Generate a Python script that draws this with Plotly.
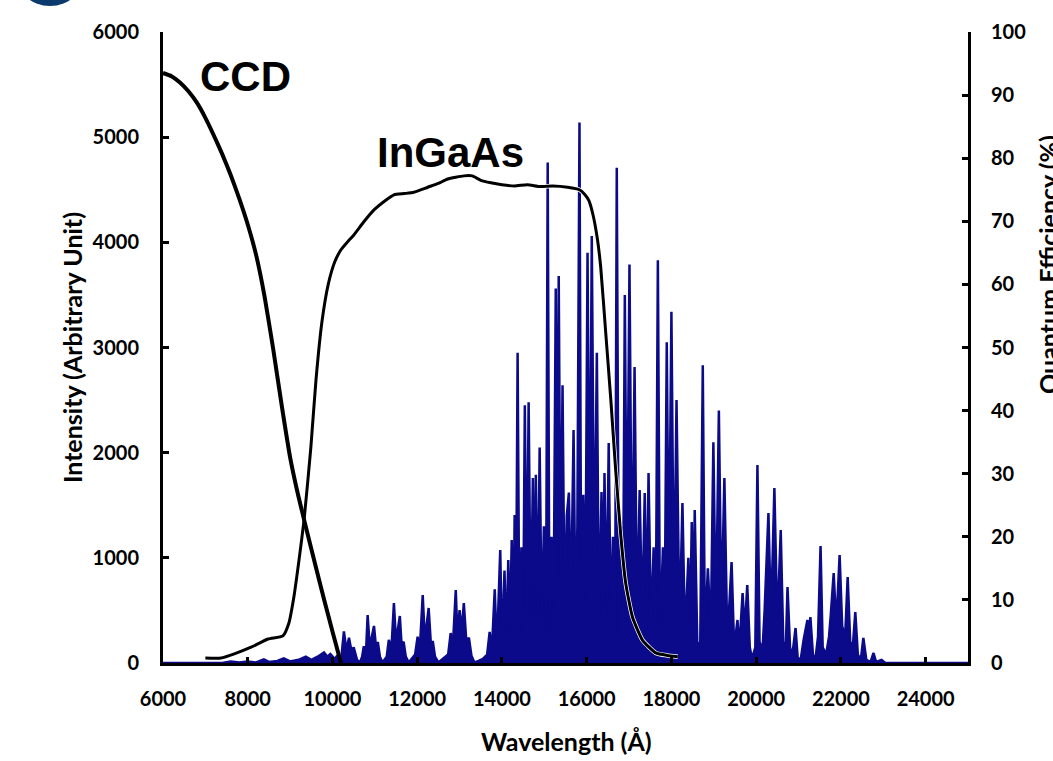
import plotly.graph_objects as go

# ---------------- data ----------------
# Emission spectrum (left axis): wavelength (Å) and intensity (arb. unit), peaks and valleys in order
spec_wavelength = [
    6000, 7400, 7600, 7800, 8000, 8200, 8380, 8500, 8700, 8850, 9000, 9200, 9370, 9500, 9650, 9800, 9880, 9950, 10050, 10130, 10200,
    10270, 10330, 10390, 10450, 10500, 10580, 10650,
    10700, 10740, 10790, 10830, 10880, 10930, 10980, 11030, 11070, 11120, 11180,
    11280, 11330, 11390, 11450, 11500, 11540, 11590, 11630, 11680, 11730, 11800,
    11950, 12010, 12060, 12130, 12180, 12220, 12270, 12320, 12370, 12420, 12500,
    12730, 12790, 12840, 12910, 12950, 13000, 13050, 13100, 13160, 13220, 13280, 13350,
    13450, 13550, 13650, 13710, 13760, 13830, 13880, 13960, 14000, 14060, 14100, 14150, 14190, 14230, 14270, 14300, 14330,
    14370, 14410, 14460, 14500, 14540, 14585, 14630, 14680, 14730, 14765, 14800, 14845, 14890, 14940, 14990, 15040,
    15080, 15120, 15170, 15220, 15270, 15300, 15340, 15385, 15430, 15480, 15530, 15580, 15630, 15690, 15740, 15780,
    15830, 15870, 15920, 15970, 16020, 16070, 16120, 16180, 16240, 16290, 16350, 16390, 16420, 16470, 16520, 16570,
    16620, 16670, 16710, 16760, 16810, 16860, 16900, 16950, 17010, 17070, 17130, 17190, 17250, 17310, 17370, 17420,
    17460, 17520, 17580, 17630, 17680, 17730, 17800, 17840, 17890, 17940, 18000, 18060, 18120, 18190, 18260, 18320,
    18400, 18440, 18480, 18520, 18550, 18610, 18680, 18740, 18790, 18860, 18930, 18990, 19050, 19120, 19180, 19250,
    19320, 19420, 19480, 19560, 19600, 19680, 19730, 19790, 19850, 19900, 19980, 20030, 20080, 20150, 20200, 20290,
    20350, 20430, 20500, 20580, 20640, 20700, 20740, 20800, 20850, 20930, 20980, 21050, 21120, 21210, 21250, 21280,
    21340, 21400, 21460, 21520, 21570, 21650, 21720, 21760, 21830, 21890, 21970, 22030, 22100, 22160, 22220, 22280,
    22340, 22400, 22470, 22530, 22600, 22700, 22770, 22830, 22960, 23050, 25000,
]
spec_intensity = [
    0, 0, 15, 5, 15, 5, 35, 10, 20, 45, 15, 30, 60, 30, 60, 100, 60, 85, 40, 75, 10,
    300, 120, 240, 110, 150, 30, 5,
    60, 160, 90, 456, 150, 260, 352, 140, 200, 60, 5,
    60, 220, 120, 570, 200, 300, 447, 180, 200, 60, 5,
    80, 250, 120, 647, 220, 350, 523, 200, 200, 60, 5,
    80, 285, 150, 694, 250, 504, 300, 570, 200, 240, 70, 5,
    20, 40, 80, 295, 100, 700, 120, 1075, 150, 880, 200, 980, 250, 1170, 250, 1407, 200,
    2950, 250, 1100, 250, 2450, 450, 2480, 300, 1760, 450, 1790, 400, 2050, 300, 1300, 250,
    4760, 300, 1200, 500, 3560, 800, 3680, 600, 2640, 400, 1400, 1620, 500, 2215, 300, 1300,
    5140, 400, 1600, 600, 3900, 800, 4060, 700, 2950, 300, 1626, 550, 1807, 450, 2092, 300,
    1200, 250, 4710, 300, 1300, 550, 3500, 700, 3790, 550, 2815, 350, 1645, 400, 1617, 450,
    1807, 300, 1100, 200, 3830, 250, 1100, 350, 3050, 650, 3340, 450, 2500, 300, 1521, 250,
    1000, 300, 1341, 400, 1455, 200, 150, 2830, 250, 900, 300, 2100, 350, 2400, 450, 1760,
    200, 960, 150, 409, 120, 666, 300, 742, 150, 40, 150, 1883, 200, 120, 500, 1426,
    400, 1664, 350, 1265, 200, 150, 723, 150, 60, 333, 50, 30, 220, 409, 280, 437,
    80, 40, 250, 1113, 150, 80, 250, 450, 856, 350, 1027, 350, 250, 818, 200, 150,
    485, 80, 30, 238, 30, 10, 95, 10, 30, 0, 0,
]

# Quantum efficiency curves (right axis, %)
ccd_wavelength = [6000, 6200, 6400, 6600, 6800, 7000, 7200, 7400, 7600, 7800, 8000,
                  8200, 8400, 8600, 8800, 9000, 9200, 9400, 9600, 9800, 10000, 10200]
ccd_qe = [93.5, 93.0, 92.0, 90.6, 88.8, 86.4, 83.6, 80.6, 77.3, 73.6, 69.5,
          64.6, 58.0, 49.8, 40.9, 32.6, 26.3, 20.8, 15.4, 10.1, 5.0, 0]

ingaas_wavelength = [7000, 7370, 7700, 8080, 8480, 8830, 8970, 9090, 9210, 9330, 9490, 9610,
                     9750, 9900, 10050, 10200, 10350, 10500, 10750, 10980, 11250, 11450, 11700,
                     11920, 12250, 12500, 12720, 13100, 13300, 13500, 13740, 14000, 14300, 14600,
                     14900, 15200, 15550, 15830, 15950, 16050, 16150, 16250, 16330, 16450, 16570,
                     16680, 16800, 16920, 17080, 17320, 17630, 17900, 18150]
ingaas_qe = [0.8, 0.8, 1.5, 2.5, 3.8, 4.3, 6.3, 10.5, 16.3, 22.7, 34.2, 44.8,
             54, 60, 63.5, 65.5, 66.7, 67.8, 70, 71.8, 73.3, 74.2, 74.4,
             74.6, 75.4, 76, 76.7, 77.2, 77.2, 76.5, 76.1, 75.8, 75.6, 75.8,
             75.5, 75.6, 75.4, 75, 74.3, 73.3, 71, 67.3, 62.8, 52.3, 41.7,
             31, 20.6, 12.7, 7.3, 3.6, 1.6, 1.2, 1.0]

x_ticks = [6000, 8000, 10000, 12000, 14000, 16000, 18000, 20000, 22000, 24000]
y_ticks = [0, 1000, 2000, 3000, 4000, 5000, 6000]
y2_ticks = [0, 10, 20, 30, 40, 50, 60, 70, 80, 90, 100]

# ---------------- figure ----------------
W, H = 1053, 761
OFF = 0  # page body margin removed via post_script
L, R, T, B = 163, 85, 32, 98
pw, ph = W - L - R, H - T - B


def px(x):
    return (x - OFF - L) / pw


def py(y):
    return (H - B + OFF - y) / ph


BLUE = "#0a0a8a"
tickfont = dict(family="Lato", size=20, color="black", weight="bold")
titlefont = dict(family="Lato", size=25, color="black", weight="bold")

fig = go.Figure()
fig.add_trace(go.Scatter(x=spec_wavelength, y=spec_intensity, mode="lines",
                         line=dict(color=BLUE, width=2.5), fill="tozeroy",
                         fillcolor=BLUE, yaxis="y", showlegend=False))
fig.add_trace(go.Scatter(x=ingaas_wavelength, y=ingaas_qe, mode="lines",
                         line=dict(color="white", width=4.5, shape="spline", smoothing=0.5),
                         yaxis="y2", showlegend=False))
fig.add_trace(go.Scatter(x=ingaas_wavelength, y=ingaas_qe, mode="lines",
                         line=dict(color="black", width=3, shape="spline", smoothing=0.5),
                         yaxis="y2", showlegend=False))
fig.add_trace(go.Scatter(x=ccd_wavelength, y=ccd_qe, mode="lines",
                         line=dict(color="black", width=4, shape="spline", smoothing=0.4),
                         yaxis="y2", showlegend=False))

axis_common = dict(showline=True, linewidth=3, linecolor="black", ticks="inside",
                   ticklen=6, tickwidth=3, tickcolor="black", showgrid=False,
                   zeroline=False, tickfont=tickfont)

fig.update_layout(
    width=W, height=H,
    margin=dict(l=L, r=R, t=T, b=B),
    paper_bgcolor="white", plot_bgcolor="white",
    xaxis=dict(range=[6000, 25000], tickvals=x_ticks, tickformat="d",
               ticklabelstandoff=16, **axis_common),
    yaxis=dict(range=[0, 6000], tickvals=y_ticks, tickformat="d",
               ticklabelstandoff=17, **axis_common),
    yaxis2=dict(range=[0, 100], tickvals=y2_ticks, overlaying="y", side="right",
                ticklabelstandoff=16, **axis_common),
    annotations=[
        dict(text="Intensity (Arbitrary Unit)", x=px(72), y=py(348), xref="paper", yref="paper",
             textangle=-90, showarrow=False, xanchor="center", yanchor="middle", font=titlefont),
        dict(text="Wavelength (Å)", x=px(566), y=py(741), xref="paper", yref="paper",
             showarrow=False, xanchor="center", yanchor="middle", font=titlefont),
        dict(text="Quantum Efficiency (%)", x=px(1048), y=py(265), xref="paper", yref="paper",
             textangle=-90, showarrow=False, xanchor="center", yanchor="middle", font=titlefont),
        dict(text="CCD", x=px(245), y=py(76), xref="paper", yref="paper",
             showarrow=False, xanchor="center", yanchor="middle",
             font=dict(family="Liberation Sans", size=42, color="black", weight="bold")),
        dict(text="InGaAs", x=px(450), y=py(152), xref="paper", yref="paper",
             showarrow=False, xanchor="center", yanchor="middle",
             font=dict(family="Liberation Sans", size=42, color="black", weight="bold")),
    ],
    shapes=[
        dict(type="circle", xref="paper", yref="paper", x0=px(15), x1=px(85),
             y0=py(6), y1=py(-60), fillcolor="#0b3a6e", line=dict(width=0), layer="above"),
    ],
)

fig.write_html("out.html", config={"displayModeBar": False},
               post_script="document.body.style.margin='0px';")
